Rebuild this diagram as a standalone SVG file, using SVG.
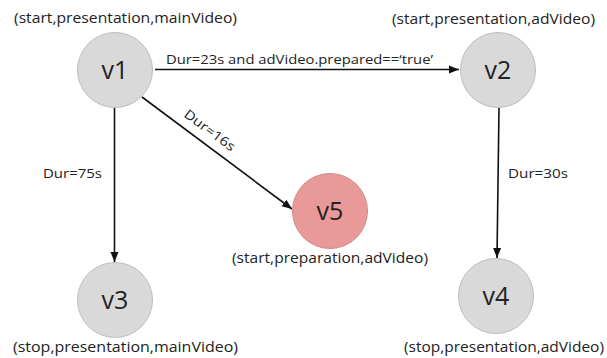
<svg xmlns="http://www.w3.org/2000/svg" width="607" height="358" viewBox="0 0 607 358">
  <defs>
    <marker id="arrow" viewBox="0 0 10 10" refX="10" refY="5" markerWidth="10" markerHeight="10" markerUnits="userSpaceOnUse" orient="auto">
      <path d="M0,1 L10,5 L0,9 Z" fill="#111"/>
    </marker>
    <style>
      text { font-family: "Open Sans", "Lato", sans-serif; fill: #222; }
      .node { fill: #d9d9d9; stroke: #bdbdbd; stroke-width: 1; }
      .node.hot { fill: #ea9999; stroke: #cf8a8a; }
      .name { font-size: 25px; text-anchor: middle; }
      .state { font-size: 14px; }
      .edge { stroke: #111; stroke-width: 1.6; fill: none; marker-end: url(#arrow); }
      .elabel { font-size: 13px; }
    </style>
  </defs>

  <!-- transitions -->
  <g id="connectors">
    <line class="edge" x1="155" y1="69.5" x2="459" y2="69.5"/>
    <line class="edge" x1="114.5" y1="108" x2="114.5" y2="262"/>
    <line class="edge" x1="142" y1="97" x2="292" y2="209"/>
    <line class="edge" x1="499" y1="108" x2="497" y2="258"/>
    <text class="elabel" x="166" y="64" textLength="267" lengthAdjust="spacingAndGlyphs">Dur=23s and adVideo.prepared==‘true’</text>
    <text class="elabel" x="43" y="178" textLength="59" lengthAdjust="spacingAndGlyphs">Dur=75s</text>
    <text class="elabel" x="508" y="178" textLength="60" lengthAdjust="spacingAndGlyphs">Dur=30s</text>
    <text class="elabel" transform="translate(183,116) rotate(36.7)" textLength="60" lengthAdjust="spacingAndGlyphs">Dur=16s</text>
  </g>

  <g id="v1">
    <circle class="node" cx="115" cy="70" r="37.5"/>
    <text class="name" x="115" y="79">v1</text>
    <text class="state" x="14" y="23" textLength="223" lengthAdjust="spacingAndGlyphs">(start,presentation,mainVideo)</text>
  </g>

  <g id="v2">
    <circle class="node" cx="498" cy="70" r="37.5"/>
    <text class="name" x="498" y="79">v2</text>
    <text class="state" x="392" y="24" textLength="203" lengthAdjust="spacingAndGlyphs">(start,presentation,adVideo)</text>
  </g>

  <g id="v3">
    <circle class="node" cx="115" cy="300" r="37.5"/>
    <text class="name" x="115" y="309">v3</text>
    <text class="state" x="13" y="352" textLength="225" lengthAdjust="spacingAndGlyphs">(stop,presentation,mainVideo)</text>
  </g>

  <g id="v4">
    <circle class="node" cx="496" cy="296" r="37.5"/>
    <text class="name" x="496" y="305">v4</text>
    <text class="state" x="404" y="352" textLength="200" lengthAdjust="spacingAndGlyphs">(stop,presentation,adVideo)</text>
  </g>

  <g id="v5">
    <circle class="node hot" cx="330" cy="211" r="37.5"/>
    <text class="name" x="330" y="220">v5</text>
    <text class="state" x="232" y="263" textLength="196" lengthAdjust="spacingAndGlyphs">(start,preparation,adVideo)</text>
  </g>
</svg>
